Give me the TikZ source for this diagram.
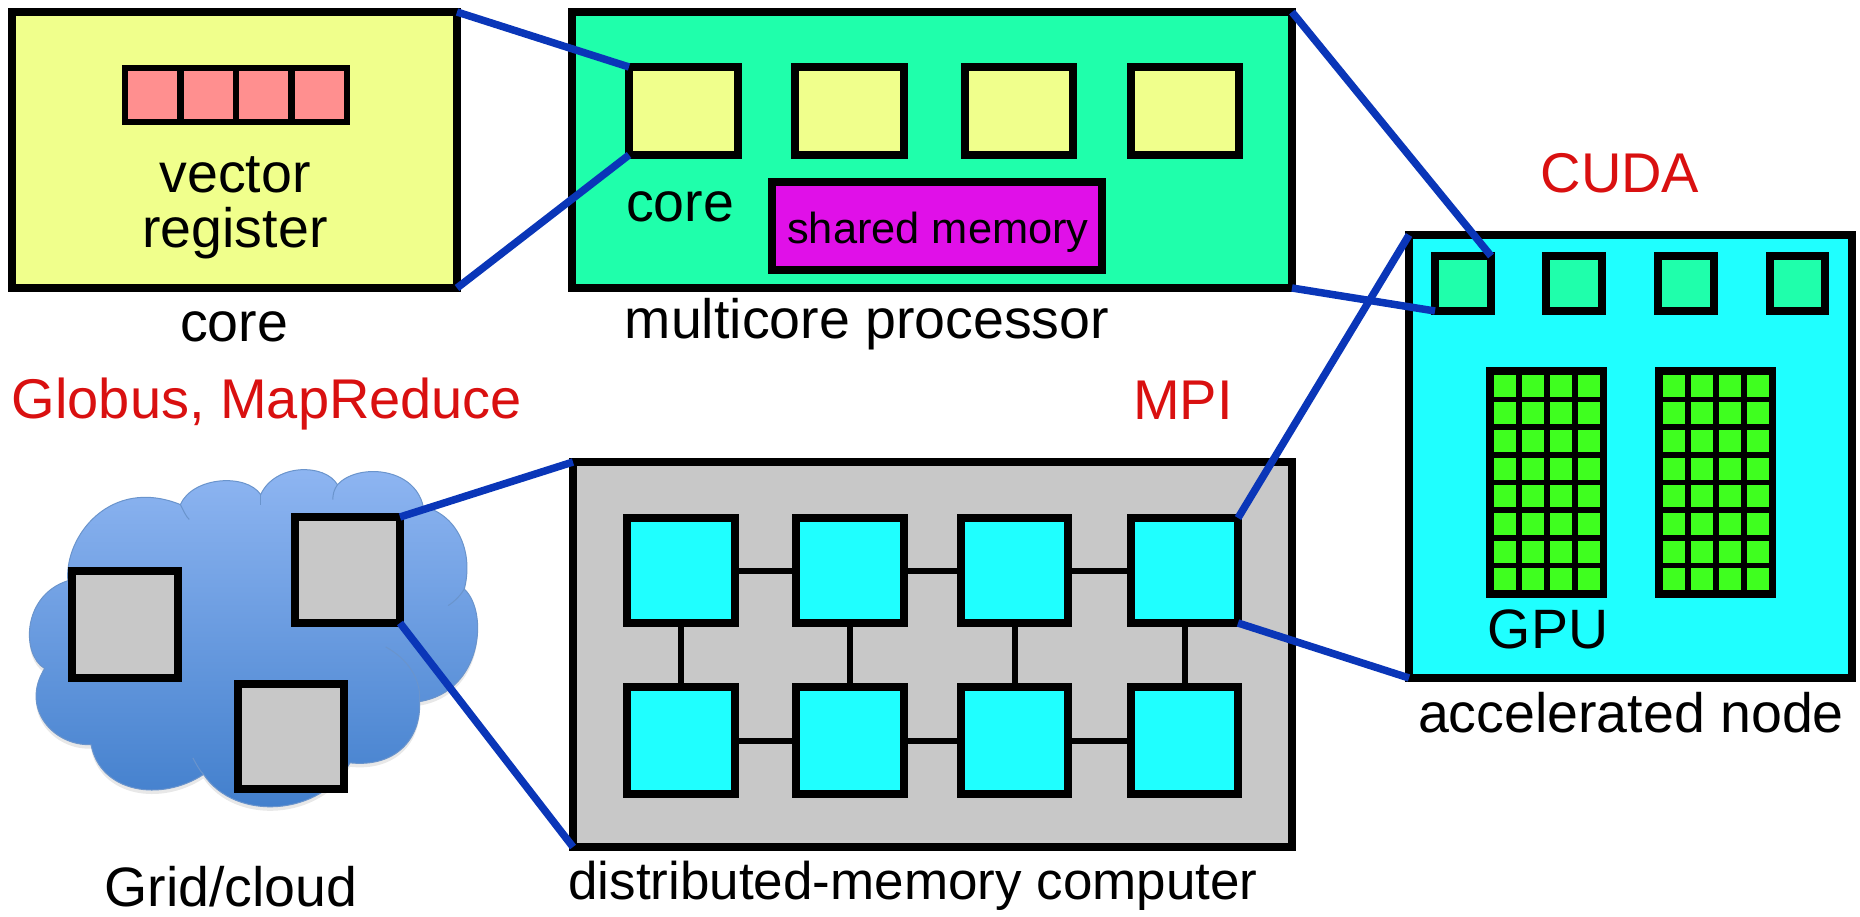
\documentclass[tikz,border=0pt]{standalone}
\usepackage{fontspec}
\setmainfont{Liberation Sans}
\definecolor{cyel}{HTML}{F0FF8C}
\definecolor{cmint}{HTML}{1FFFAB}
\definecolor{cmag}{HTML}{E010E8}
\definecolor{cpink}{HTML}{FF8F8F}
\definecolor{ccyan}{HTML}{1FFFFF}
\definecolor{cgreen}{HTML}{3FFF1F}
\definecolor{cgray}{HTML}{C8C8C8}
\definecolor{cred}{HTML}{D91010}
\definecolor{cblue}{HTML}{0A36B8}
\definecolor{cltop}{HTML}{8FB6F2}
\definecolor{clbot}{HTML}{3F7DCB}
\definecolor{cledge}{HTML}{6A94CC}
\tikzset{
  box/.style={draw=black,line width=8pt,inner sep=0pt,outer sep=0pt,rectangle},
  thinbox/.style={draw=black,line width=6.5pt,inner sep=0pt,outer sep=0pt,rectangle},
  link/.style={draw=cblue,line width=7.5pt},
  wire/.style={draw=black,line width=6pt},
  lab/.style={font=\fontsize{55.5}{54.5}\selectfont,text=black,inner sep=0pt,align=center},
  labd/.style={font=\fontsize{53}{54}\selectfont,text=black,inner sep=0pt},
  labs/.style={font=\fontsize{43.4}{44}\selectfont,text=black,inner sep=0pt},
  labr/.style={font=\fontsize{56}{54}\selectfont,text=cred,inner sep=0pt},
  cell/.style={fill=cgreen,inner sep=0pt,outer sep=0pt,minimum width=22pt,minimum height=22pt,rectangle},
}
\newcommand{\bx}[6]{\node[box,fill=#6,minimum width={(#4-#2)*1pt},minimum height={(#5-#3)*1pt}] (#1) at ({(#2+#4)/2},{(#3+#5)/2}) {};}
\newcommand{\cloudpath}{(125,690) .. controls (60,650) and (60,470) .. (190,425)
 .. controls (180,290) and (310,110) .. (505,195)
 .. controls (540,110) and (690,100) .. (730,165)
 .. controls (770,70) and (910,70) .. (945,135)
 .. controls (1000,70) and (1160,80) .. (1185,200)
 .. controls (1290,230) and (1325,350) .. (1300,450)
 .. controls (1370,520) and (1350,760) .. (1175,790)
 .. controls (1180,900) and (1110,990) .. (980,975)
 .. controls (900,1135) and (660,1155) .. (570,1010)
 .. controls (450,1095) and (280,1065) .. (255,920)
 .. controls (150,925) and (55,810) .. (125,690) -- cycle}
\begin{document}
\begin{tikzpicture}[x=1pt,y=-1pt]
\useasboundingbox (0,0) rectangle (1860,917);
% cloud
\begin{scope}[shift={(0,440)},x=0.3571pt,y=-0.3311pt]
  \fill[black!30,opacity=.3] [yshift=-4pt] \cloudpath;
  \path[top color=cltop,bottom color=clbot,draw=cledge,line width=1pt] \cloudpath;
  \draw[cledge,line width=1pt] (505,195) .. controls (515,215) and (520,230) .. (530,240);
  \draw[cledge,line width=1pt] (730,165) -- (730,195);
  \draw[cledge,line width=1pt] (945,135) .. controls (935,150) and (932,165) .. (932,180);
  \draw[cledge,line width=1pt] (1300,450) .. controls (1290,470) and (1270,490) .. (1255,500);
  \draw[cledge,line width=1pt] (1080,625) .. controls (1140,660) and (1180,720) .. (1175,790);
  \draw[cledge,line width=1pt] (540,960) .. controls (550,980) and (560,1000) .. (570,1010);
\end{scope}
% core
\bx{core}{12}{12}{457}{288}{cyel}
\foreach \i/\a/\b in {1/125/180.5,2/180.5/236,3/236/291.5,4/291.5/347}{
  \node[thinbox,fill=cpink,minimum width=55.5pt,minimum height=54pt] (r\i) at ({(\a+\b)/2},95) {};
}
% multicore
\bx{mc}{572}{12}{1292}{288}{cmint}
\bx{c1}{629}{67}{738}{155}{cyel}
\bx{c2}{795}{67}{904}{155}{cyel}
\bx{c3}{965}{67}{1073}{155}{cyel}
\bx{c4}{1131}{67}{1239}{155}{cyel}
\bx{shm}{772}{182}{1102}{270}{cmag}
% accelerated node
\bx{acc}{1409}{235}{1852}{678}{ccyan}
\bx{s1}{1435}{256}{1491}{311}{cmint}
\bx{s2}{1546}{256}{1602}{311}{cmint}
\bx{s3}{1658}{256}{1714}{311}{cmint}
\bx{s4}{1770}{256}{1825}{311}{cmint}
\bx{g1}{1490}{371}{1602.5}{593.5}{black}
\bx{g2}{1659}{371}{1771.5}{593.5}{black}
\foreach \g/\xo in {a/1493.5,b/1662.5}{
  \foreach \cx in {0,...,3}{
    \foreach \cy in {0,...,7}{
      \node[cell] (\g\cx\cy) at ({\xo+11+\cx*28},{385.5+\cy*27.7}) {};
    }
  }
}
% distributed memory
\bx{dm}{573}{462}{1292}{847}{cgray}
\bx{n1}{627}{518}{735}{623}{ccyan}
\bx{n2}{796}{518}{904}{623}{ccyan}
\bx{n3}{961}{518}{1068}{623}{ccyan}
\bx{n4}{1131}{518}{1238}{623}{ccyan}
\bx{m1}{627}{687}{735}{794}{ccyan}
\bx{m2}{796}{687}{904}{794}{ccyan}
\bx{m3}{961}{687}{1068}{794}{ccyan}
\bx{m4}{1131}{687}{1238}{794}{ccyan}
\draw[wire] (n1) -- (n2);
\draw[wire] (n2) -- (n3);
\draw[wire] (n3) -- (n4);
\draw[wire] (m1) -- (m2);
\draw[wire] (m2) -- (m3);
\draw[wire] (m3) -- (m4);
\draw[wire] (n1) -- (m1);
\draw[wire] (n2) -- (m2);
\draw[wire] (n3) -- (m3);
\draw[wire] (n4) -- (m4);
% cloud squares
\bx{q1}{295}{517}{400}{623}{cgray}
\bx{q2}{72}{571}{178}{678}{cgray}
\bx{q3}{238}{684}{344}{789}{cgray}
% connectors
\draw[link] (core.north east) -- (c1.north west);
\draw[link] (core.south east) -- (c1.south west);
\draw[link] (mc.north east) -- (s1.north east);
\draw[link] (mc.south east) -- (s1.south west);
\draw[link] (n4.north east) -- (acc.north west);
\draw[link] (n4.south east) -- (acc.south west);
\draw[link] (q1.north east) -- (dm.north west);
\draw[link] (q1.south east) -- (dm.south west);
% labels
\node[lab] (tvec) at (235,208) {vector\\register};
\node[lab] (tcore) at (234,327) {core};
\node[lab] (tc) at (680,207) {core};
\node[labs] (tshm) at (938,232) {shared memory};
\node[lab] (tmc) at (867,324) {multicore processor};
\node[labr] (tcuda) at (1620,173) {CUDA};
\node[labr] (tglob) at (267,404) {Globus, MapReduce};
\node[labr] (tmpi) at (1183,400) {MPI};
\node[lab] (tgpu) at (1548,629) {GPU};
\node[lab] (tacc) at (1631,713) {accelerated node};
\node[lab] (tgrid) at (231,887) {Grid/cloud};
\node[labd] (tdm) at (913,886) {distributed-memory computer};
\end{tikzpicture}
\end{document}
